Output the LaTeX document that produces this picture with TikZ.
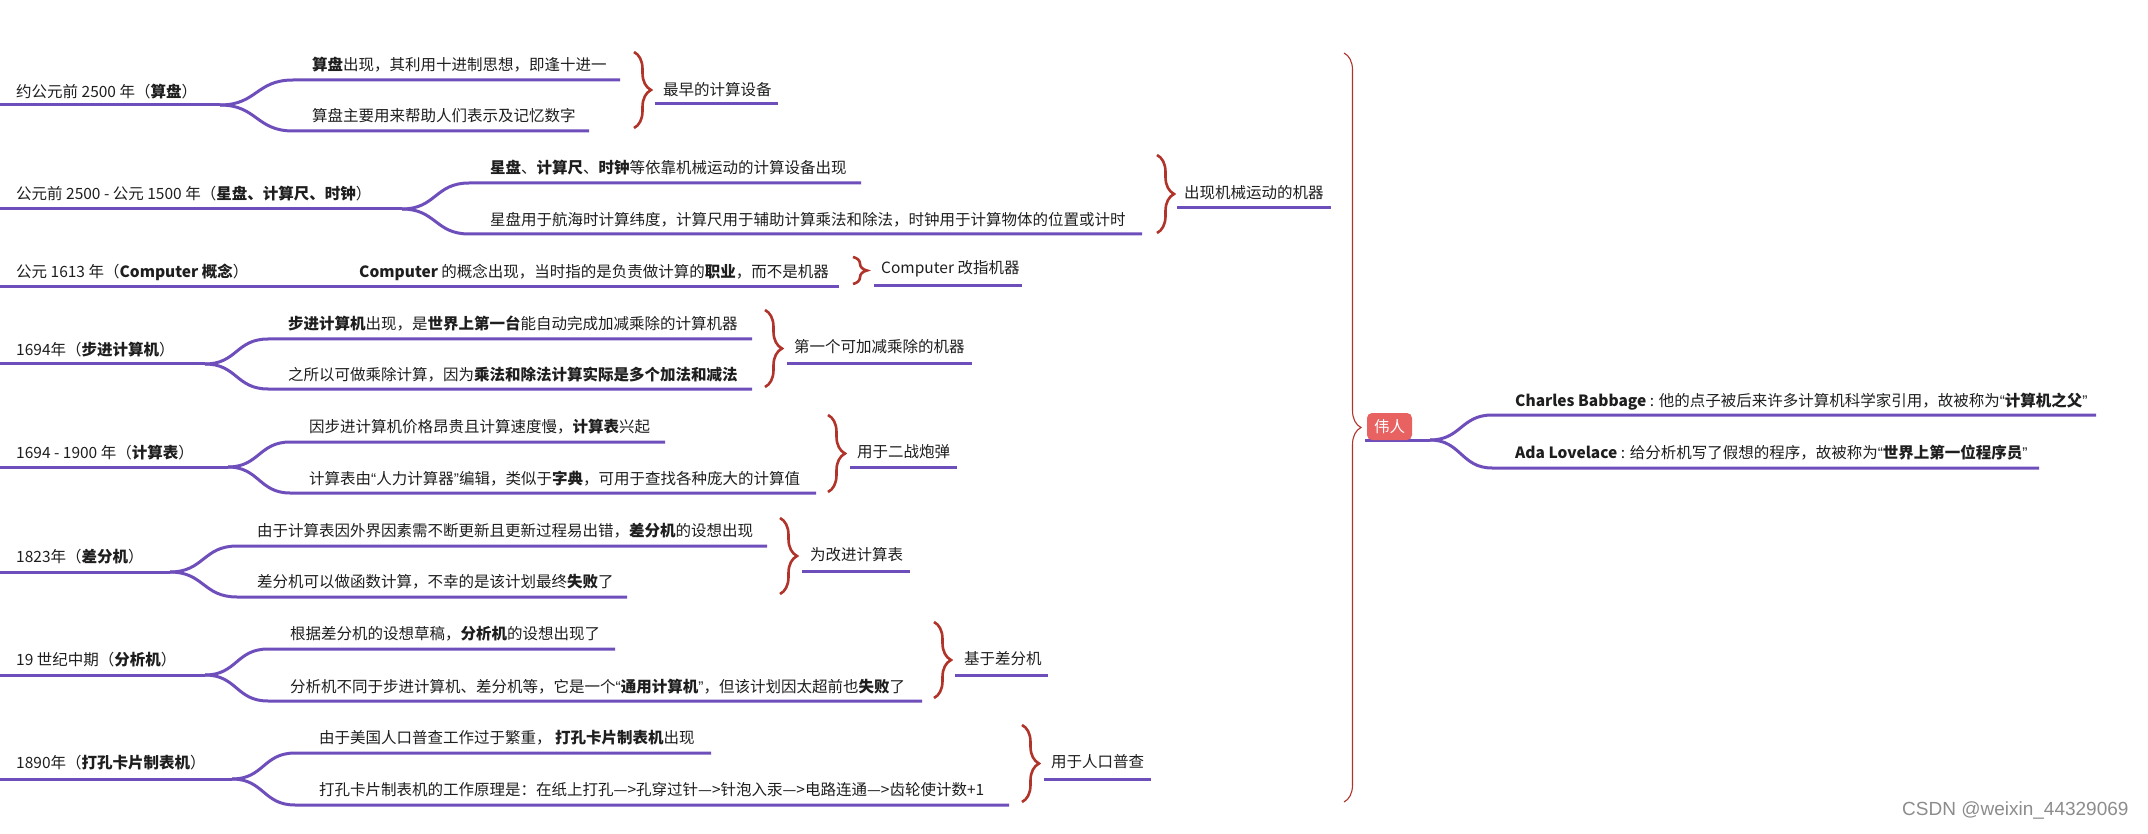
\documentclass[tikz,border=0pt]{standalone}
\usepackage{fontspec}
\setmainfont{Noto Sans CJK SC}
\newfontfamily\wmfont{Liberation Sans}
\newcommand\myoq{{\wmfont “}}
\newcommand\mycq{{\wmfont ”}}
\usetikzlibrary{decorations.pathreplacing}
\definecolor{purp}{RGB}{110,78,186}
\definecolor{bred}{RGB}{176,52,42}
\definecolor{boxred}{RGB}{232,98,98}
\definecolor{txtc}{RGB}{30,30,30}
\tikzset{
  branch/.style={draw=purp,line width=3pt},
  txt/.style={anchor=west,inner sep=0pt,text=txtc,font=\fontsize{15.5}{18}\selectfont},
  brc/.style={draw=bred,line width=2.6pt,decorate,decoration={brace,amplitude=17pt}},
  bigbrc/.style={draw=bred,line width=1.1pt,decorate,decoration={brace,amplitude=17pt}},
  topic/.style={rounded corners=5pt,fill=boxred,text=white,inner sep=0pt,minimum width=45pt,minimum height=27pt,font=\fontsize{15.5}{18}\selectfont},
  wm/.style={anchor=west,inner sep=0pt,text=black!45,font=\wmfont\fontsize{19}{22}\selectfont}
}
\begin{document}
\begin{tikzpicture}[x=1pt,y=-1pt]
\useasboundingbox (0,0) rectangle (2148,834);

% ---------- Group 1 ----------
\node[txt] (r1) at (16,92) {约公元前 2500 年（\textbf{算盘}）};
\node[txt] (c1a) at (312,65) {\textbf{算盘}出现，其利用十进制思想，即逢十进一};
\node[txt] (c1b) at (312,116) {算盘主要用来帮助人们表示及记忆数字};
\node[txt] (l1) at (663,90) {最早的计算设备};
\coordinate (r1s) at (0,105); \coordinate (r1e) at (220,105);
\coordinate (c1as) at (293,80); \coordinate (c1ae) at (620,80);
\coordinate (c1bs) at (293,131); \coordinate (c1be) at (589,131);
\coordinate (l1s) at (655,104); \coordinate (l1e) at (778,104);
\coordinate (b1t) at (634,52); \coordinate (b1b) at (634,128);
\draw[branch] (r1s) -- (r1e);
\draw[branch] (r1e) .. controls +(37,0) and +(-37,0) .. (c1as) -- (c1ae);
\draw[branch] (r1e) .. controls +(37,0) and +(-37,0) .. (c1bs) -- (c1be);
\draw[branch] (l1s) -- (l1e);
\draw[brc] (b1t) -- (b1b);

% ---------- Group 2 ----------
\node[txt] (r2) at (16,194) {公元前 2500 - 公元 1500 年（\textbf{星盘、计算尺、时钟}）};
\node[txt] (c2a) at (490,168) {\textbf{星盘}、\textbf{计算尺}、\textbf{时钟}等依靠机械运动的计算设备出现};
\node[txt] (c2b) at (490,220) {星盘用于航海时计算纬度，计算尺用于辅助计算乘法和除法，时钟用于计算物体的位置或计时};
\node[txt] (l2) at (1184,193) {出现机械运动的机器};
\coordinate (r2s) at (0,209); \coordinate (r2e) at (402,209);
\coordinate (c2as) at (469,183); \coordinate (c2ae) at (861,183);
\coordinate (c2bs) at (469,234); \coordinate (c2be) at (1142,234);
\coordinate (l2s) at (1177,208); \coordinate (l2e) at (1331,208);
\coordinate (b2t) at (1157,155); \coordinate (b2b) at (1157,233);
\draw[branch] (r2s) -- (r2e);
\draw[branch] (r2e) .. controls +(34,0) and +(-34,0) .. (c2as) -- (c2ae);
\draw[branch] (r2e) .. controls +(34,0) and +(-34,0) .. (c2bs) -- (c2be);
\draw[branch] (l2s) -- (l2e);
\draw[brc] (b2t) -- (b2b);

% ---------- Group 3 ----------
\node[txt] (r3) at (16,272) {公元 1613 年（\textbf{Computer 概念}）};
\node[txt] (c3) at (359,272) {\textbf{Computer} 的概念出现，当时指的是负责做计算的\textbf{职业}，而不是机器};
\node[txt] (l3) at (881,269) {Computer 改指机器};
\coordinate (r3s) at (0,287); \coordinate (r3e) at (340,287);
\coordinate (c3e) at (839,287);
\coordinate (l3s) at (874,286); \coordinate (l3e) at (1022,286);
\coordinate (b3t) at (853,257); \coordinate (b3b) at (853,284);
\draw[branch] (r3s) -- (r3e) -- (c3e);
\draw[branch] (l3s) -- (l3e);
\draw[brc,decoration={brace,amplitude=14pt}] (b3t) -- (b3b);

% ---------- Group 4 ----------
\node[txt] (r4) at (16,350) {1694年（\textbf{步进计算机}）};
\node[txt] (c4a) at (288,324) {\textbf{步进计算机}出现，是\textbf{世界上第一台}能自动完成加减乘除的计算机器};
\node[txt] (c4b) at (288,375) {之所以可做乘除计算，因为\textbf{乘法和除法计算实际是多个加法和减法}};
\node[txt] (l4) at (794,347) {第一个可加减乘除的机器};
\coordinate (r4s) at (0,364); \coordinate (r4e) at (205,364);
\coordinate (c4as) at (268,339); \coordinate (c4ae) at (752,339);
\coordinate (c4bs) at (268,389); \coordinate (c4be) at (752,389);
\coordinate (l4s) at (787,364); \coordinate (l4e) at (972,364);
\coordinate (b4t) at (765,310); \coordinate (b4b) at (765,387);
\draw[branch] (r4s) -- (r4e);
\draw[branch] (r4e) .. controls +(32,0) and +(-32,0) .. (c4as) -- (c4ae);
\draw[branch] (r4e) .. controls +(32,0) and +(-32,0) .. (c4bs) -- (c4be);
\draw[branch] (l4s) -- (l4e);
\draw[brc] (b4t) -- (b4b);

% ---------- Group 5 ----------
\node[txt] (r5) at (16,453) {1694 - 1900 年（\textbf{计算表}）};
\node[txt] (c5a) at (309,427) {因步进计算机价格昂贵且计算速度慢，\textbf{计算表}兴起};
\node[txt] (c5b) at (309,479) {计算表由\myoq 人力计算器\mycq 编辑，类似于\textbf{字典}，可用于查找各种庞大的计算值};
\node[txt] (l5) at (857,452) {用于二战炮弹};
\coordinate (r5s) at (0,467); \coordinate (r5e) at (228,467);
\coordinate (c5as) at (290,442); \coordinate (c5ae) at (665,442);
\coordinate (c5bs) at (290,493); \coordinate (c5be) at (816,493);
\coordinate (l5s) at (850,467); \coordinate (l5e) at (957,467);
\coordinate (b5t) at (828,415); \coordinate (b5b) at (828,492);
\draw[branch] (r5s) -- (r5e);
\draw[branch] (r5e) .. controls +(31,0) and +(-31,0) .. (c5as) -- (c5ae);
\draw[branch] (r5e) .. controls +(31,0) and +(-31,0) .. (c5bs) -- (c5be);
\draw[branch] (l5s) -- (l5e);
\draw[brc] (b5t) -- (b5b);

% ---------- Group 6 ----------
\node[txt] (r6) at (16,557) {1823年（\textbf{差分机}）};
\node[txt] (c6a) at (257,531) {由于计算表因外界因素需不断更新且更新过程易出错，\textbf{差分机}的设想出现};
\node[txt] (c6b) at (257,582) {差分机可以做函数计算，不幸的是该计划最终\textbf{失败}了};
\node[txt] (l6) at (810,555) {为改进计算表};
\coordinate (r6s) at (0,572); \coordinate (r6e) at (170,572);
\coordinate (c6as) at (237,546); \coordinate (c6ae) at (767,546);
\coordinate (c6bs) at (237,597); \coordinate (c6be) at (627,597);
\coordinate (l6s) at (802,571); \coordinate (l6e) at (910,571);
\coordinate (b6t) at (780,518); \coordinate (b6b) at (780,594);
\draw[branch] (r6s) -- (r6e);
\draw[branch] (r6e) .. controls +(34,0) and +(-34,0) .. (c6as) -- (c6ae);
\draw[branch] (r6e) .. controls +(34,0) and +(-34,0) .. (c6bs) -- (c6be);
\draw[branch] (l6s) -- (l6e);
\draw[brc] (b6t) -- (b6b);

% ---------- Group 7 ----------
\node[txt] (r7) at (16,660) {19 世纪中期（\textbf{分析机}）};
\node[txt] (c7a) at (290,634) {根据差分机的设想草稿，\textbf{分析机}的设想出现了};
\node[txt] (c7b) at (290,687) {分析机不同于步进计算机、差分机等，它是一个\myoq\textbf{通用计算机}\mycq，但该计划因太超前也\textbf{失败}了};
\node[txt] (l7) at (964,659) {基于差分机};
\coordinate (r7s) at (0,675); \coordinate (r7e) at (205,675);
\coordinate (c7as) at (268,649); \coordinate (c7ae) at (615,649);
\coordinate (c7bs) at (268,701); \coordinate (c7be) at (922,701);
\coordinate (l7s) at (955,675); \coordinate (l7e) at (1048,675);
\coordinate (b7t) at (934,622); \coordinate (b7b) at (934,698);
\draw[branch] (r7s) -- (r7e);
\draw[branch] (r7e) .. controls +(32,0) and +(-32,0) .. (c7as) -- (c7ae);
\draw[branch] (r7e) .. controls +(32,0) and +(-32,0) .. (c7bs) -- (c7be);
\draw[branch] (l7s) -- (l7e);
\draw[brc] (b7t) -- (b7b);

% ---------- Group 8 ----------
\node[txt] (r8) at (16,763) {1890年（\textbf{打孔卡片制表机}）};
\node[txt] (c8a) at (319,738) {由于美国人口普查工作过于繁重， \textbf{打孔卡片制表机}出现};
\node[txt] (c8b) at (319,790) {打孔卡片制表机的工作原理是：在纸上打孔—>孔穿过针—>针泡入汞—>电路连通—>齿轮使计数+1};
\node[txt] (l8) at (1051,762) {用于人口普查};
\coordinate (r8s) at (0,779); \coordinate (r8e) at (232,779);
\coordinate (c8as) at (295,753); \coordinate (c8ae) at (711,753);
\coordinate (c8bs) at (295,805); \coordinate (c8be) at (1009,805);
\coordinate (l8s) at (1044,779); \coordinate (l8e) at (1151,779);
\coordinate (b8t) at (1022,725); \coordinate (b8b) at (1022,802);
\draw[branch] (r8s) -- (r8e);
\draw[branch] (r8e) .. controls +(32,0) and +(-32,0) .. (c8as) -- (c8ae);
\draw[branch] (r8e) .. controls +(32,0) and +(-32,0) .. (c8bs) -- (c8be);
\draw[branch] (l8s) -- (l8e);
\draw[brc] (b8t) -- (b8b);

% ---------- Big brace and 伟人 ----------
\coordinate (bbt) at (1344,53); \coordinate (bbb) at (1344,802);
\draw[bigbrc] (bbt) -- (bbb);
\coordinate (ws) at (1365,440); \coordinate (we) at (1430,440);
\coordinate (p1s) at (1492,415); \coordinate (p1e) at (2096,415);
\coordinate (p2s) at (1492,468); \coordinate (p2e) at (2039,468);
\draw[branch] (ws) -- (we);
\draw[branch] (we) .. controls +(31,0) and +(-31,0) .. (p1s) -- (p1e);
\draw[branch] (we) .. controls +(31,0) and +(-31,0) .. (p2s) -- (p2e);
\node[topic] (wr) at (1389.5,426.5) {伟人};
\node[txt] (p1) at (1515,402) {\textbf{Charles Babbage} : 他的点子被后来许多计算机科学家引用，故被称为\myoq\textbf{计算机之父}\mycq};
\node[txt] (p2) at (1515,453) {\textbf{Ada Lovelace} : 给分析机写了假想的程序，故被称为\myoq\textbf{世界上第一位程序员}\mycq};

% ---------- watermark ----------
\node[wm] (wmk) at (1902,810) {CSDN @weixin\_44329069};
\end{tikzpicture}
\end{document}
